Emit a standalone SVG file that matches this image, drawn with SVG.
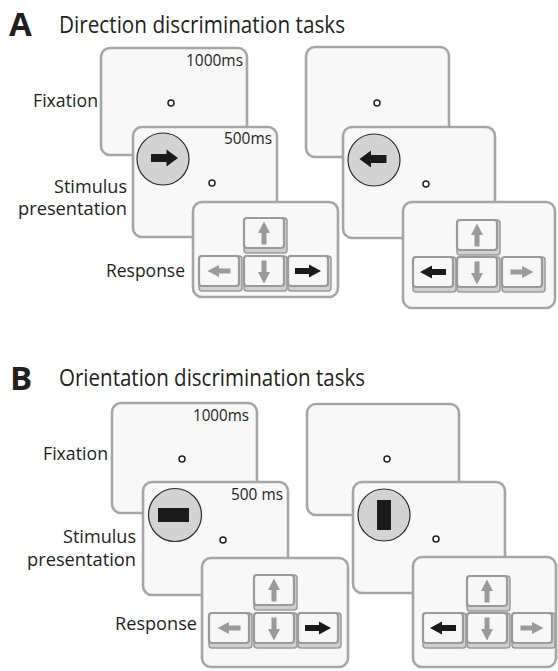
<svg xmlns="http://www.w3.org/2000/svg" xmlns:xlink="http://www.w3.org/1999/xlink" width="558" height="671" viewBox="0 0 558 671">
  <style>
    .screen { fill: #f8f8f8; stroke: #a6a6a6; stroke-width: 2.6; }
    .dot { fill: #ffffff; stroke: #222222; stroke-width: 1.5; }
    .stim { fill: #d3d3d3; stroke: #2a2a2a; stroke-width: 1.2; }
    .label { font-family: "Open Sans", "Liberation Sans", sans-serif; font-size: 18px; fill: #231f20; }
    .time { font-family: "Open Sans", "Liberation Sans", sans-serif; font-size: 16.5px; fill: #231f20; }
    .title { font-family: "Open Sans", "Liberation Sans", sans-serif; font-size: 24px; fill: #231f20; }
    .letter { font-family: "Open Sans", "Liberation Sans", sans-serif; font-size: 33px; font-weight: bold; fill: #231f20; }
    .keylip { fill: #d0d0d0; stroke: #9a9a9a; stroke-width: 1.5; }
    .keyface { fill: #f7f7f7; stroke: #9a9a9a; stroke-width: 2.2; }
    .grey { fill: #9a9a9a; }
    .black { fill: #1a1a1a; }
  </style>
  <defs>
    <!-- keyboard key: lip underneath, face on top -->
    <g id="key">
      <rect class="keylip" x="0" y="0" width="43" height="35" rx="3"/>
      <rect class="keyface" x="0" y="0" width="40" height="30" rx="3"/>
    </g>
    <!-- small key arrows, pointing right, centred on origin -->
    <path id="arrowGrey" d="M-11.5,-2.5 H0 V-6 L11.5,0 L0,6 V2.5 H-11.5 Z"/>
    <path id="arrowBlack" d="M-13,-3 H1 V-6.5 L13,0 L1,6.5 V3 H-13 Z"/>
    <!-- large stimulus arrow -->
    <path id="arrowStim" d="M-13.5,-4 H2 V-8.5 L13.5,0 L2,8.5 V4 H-13.5 Z"/>
    <!-- arrow-key cluster: up, left, down, right; right key black -->
    <g id="keysRight">
      <use xlink:href="#key" x="51" y="16"/>
      <use xlink:href="#key" x="6" y="54"/>
      <use xlink:href="#key" x="51" y="54"/>
      <use xlink:href="#key" x="95" y="54"/>
      <use xlink:href="#arrowGrey" class="grey" transform="translate(71,31) rotate(-90)"/>
      <use xlink:href="#arrowGrey" class="grey" transform="translate(26,69) rotate(180)"/>
      <use xlink:href="#arrowGrey" class="grey" transform="translate(71,70) rotate(90)"/>
      <use xlink:href="#arrowBlack" class="black" transform="translate(115,69)"/>
    </g>
    <g id="keysLeft">
      <use xlink:href="#key" x="54" y="18"/>
      <use xlink:href="#key" x="10" y="55"/>
      <use xlink:href="#key" x="54" y="55"/>
      <use xlink:href="#key" x="99" y="55"/>
      <use xlink:href="#arrowGrey" class="grey" transform="translate(74,33) rotate(-90)"/>
      <use xlink:href="#arrowBlack" class="black" transform="translate(30,70) rotate(180)"/>
      <use xlink:href="#arrowGrey" class="grey" transform="translate(74,71) rotate(90)"/>
      <use xlink:href="#arrowGrey" class="grey" transform="translate(119,70)"/>
    </g>
  </defs>

  <!-- Panel A -->
  <g id="titleA">
    <text class="letter" x="9" y="36">A</text>
    <text class="title" x="59" y="33" textLength="286" lengthAdjust="spacingAndGlyphs">Direction discrimination tasks</text>
  </g>
  <g id="labelsA">
    <text class="label" x="98" y="107" text-anchor="end" textLength="65" lengthAdjust="spacingAndGlyphs">Fixation</text>
    <text class="label" x="127" y="193" text-anchor="end" textLength="73" lengthAdjust="spacingAndGlyphs">Stimulus</text>
    <text class="label" x="127" y="215" text-anchor="end" textLength="109" lengthAdjust="spacingAndGlyphs">presentation</text>
    <text class="label" x="185" y="277" text-anchor="end" textLength="79" lengthAdjust="spacingAndGlyphs">Response</text>
  </g>

  <g id="A-right-trial">
    <g id="A1-fixation">
      <rect class="screen" x="101" y="48" width="146" height="107" rx="9"/>
      <text class="time" x="243" y="66" text-anchor="end" textLength="57" lengthAdjust="spacingAndGlyphs">1000ms</text>
      <circle class="dot" cx="171" cy="103" r="3"/>
    </g>
    <g id="A1-stimulus">
      <rect class="screen" x="133" y="127" width="144" height="110" rx="9"/>
      <text class="time" x="272" y="144" text-anchor="end" textLength="48" lengthAdjust="spacingAndGlyphs">500ms</text>
      <circle class="stim" cx="163" cy="159" r="26"/>
      <use xlink:href="#arrowStim" class="black" transform="translate(164.5,158)"/>
      <circle class="dot" cx="212" cy="183" r="3"/>
    </g>
    <g id="A1-response">
      <rect class="screen" x="193" y="202" width="145" height="95" rx="9"/>
      <use xlink:href="#keysRight" transform="translate(193,202)"/>
    </g>
  </g>

  <g id="A-left-trial">
    <g id="A2-fixation">
      <rect class="screen" x="306" y="47" width="143" height="110" rx="9"/>
      <circle class="dot" cx="377" cy="103" r="3"/>
    </g>
    <g id="A2-stimulus">
      <rect class="screen" x="343" y="127" width="152" height="111" rx="9"/>
      <circle class="stim" cx="374" cy="160" r="26"/>
      <use xlink:href="#arrowStim" class="black" transform="translate(373,159) rotate(180)"/>
      <circle class="dot" cx="426" cy="184" r="3"/>
    </g>
    <g id="A2-response">
      <rect class="screen" x="403" y="202" width="152" height="106" rx="9"/>
      <use xlink:href="#keysLeft" transform="translate(403,202)"/>
    </g>
  </g>

  <!-- Panel B -->
  <g id="titleB">
    <text class="letter" x="10" y="390">B</text>
    <text class="title" x="59" y="386" textLength="306" lengthAdjust="spacingAndGlyphs">Orientation discrimination tasks</text>
  </g>
  <g id="labelsB">
    <text class="label" x="108" y="460" text-anchor="end" textLength="65" lengthAdjust="spacingAndGlyphs">Fixation</text>
    <text class="label" x="136" y="543" text-anchor="end" textLength="73" lengthAdjust="spacingAndGlyphs">Stimulus</text>
    <text class="label" x="136" y="566" text-anchor="end" textLength="109" lengthAdjust="spacingAndGlyphs">presentation</text>
    <text class="label" x="197" y="630" text-anchor="end" textLength="82" lengthAdjust="spacingAndGlyphs">Response</text>
  </g>

  <g id="B-horizontal-trial">
    <g id="B1-fixation">
      <rect class="screen" x="112" y="403" width="145" height="110" rx="9"/>
      <text class="time" x="249" y="421" text-anchor="end" textLength="56" lengthAdjust="spacingAndGlyphs">1000ms</text>
      <circle class="dot" cx="182" cy="459" r="3"/>
    </g>
    <g id="B1-stimulus">
      <rect class="screen" x="143" y="482" width="145" height="113" rx="9"/>
      <text class="time" x="283" y="500" text-anchor="end" textLength="52" lengthAdjust="spacingAndGlyphs">500 ms</text>
      <circle class="stim" cx="175" cy="515" r="26.5"/>
      <rect class="black" x="158" y="508" width="31" height="14"/>
      <circle class="dot" cx="223" cy="540" r="3"/>
    </g>
    <g id="B1-response">
      <rect class="screen" x="202" y="558" width="146" height="109" rx="9"/>
      <use xlink:href="#keysRight" transform="translate(203,559)"/>
    </g>
  </g>

  <g id="B-vertical-trial">
    <g id="B2-fixation">
      <rect class="screen" x="307" y="404" width="152" height="111" rx="9"/>
      <circle class="dot" cx="387" cy="459" r="3"/>
    </g>
    <g id="B2-stimulus">
      <rect class="screen" x="353" y="482" width="152" height="111" rx="9"/>
      <circle class="stim" cx="384" cy="515" r="26"/>
      <rect class="black" x="377" y="500" width="14" height="30"/>
      <circle class="dot" cx="436" cy="539" r="3"/>
    </g>
    <g id="B2-response">
      <rect class="screen" x="413" y="557" width="143" height="110" rx="9"/>
      <use xlink:href="#keysLeft" transform="translate(413,558)"/>
    </g>
  </g>
</svg>
